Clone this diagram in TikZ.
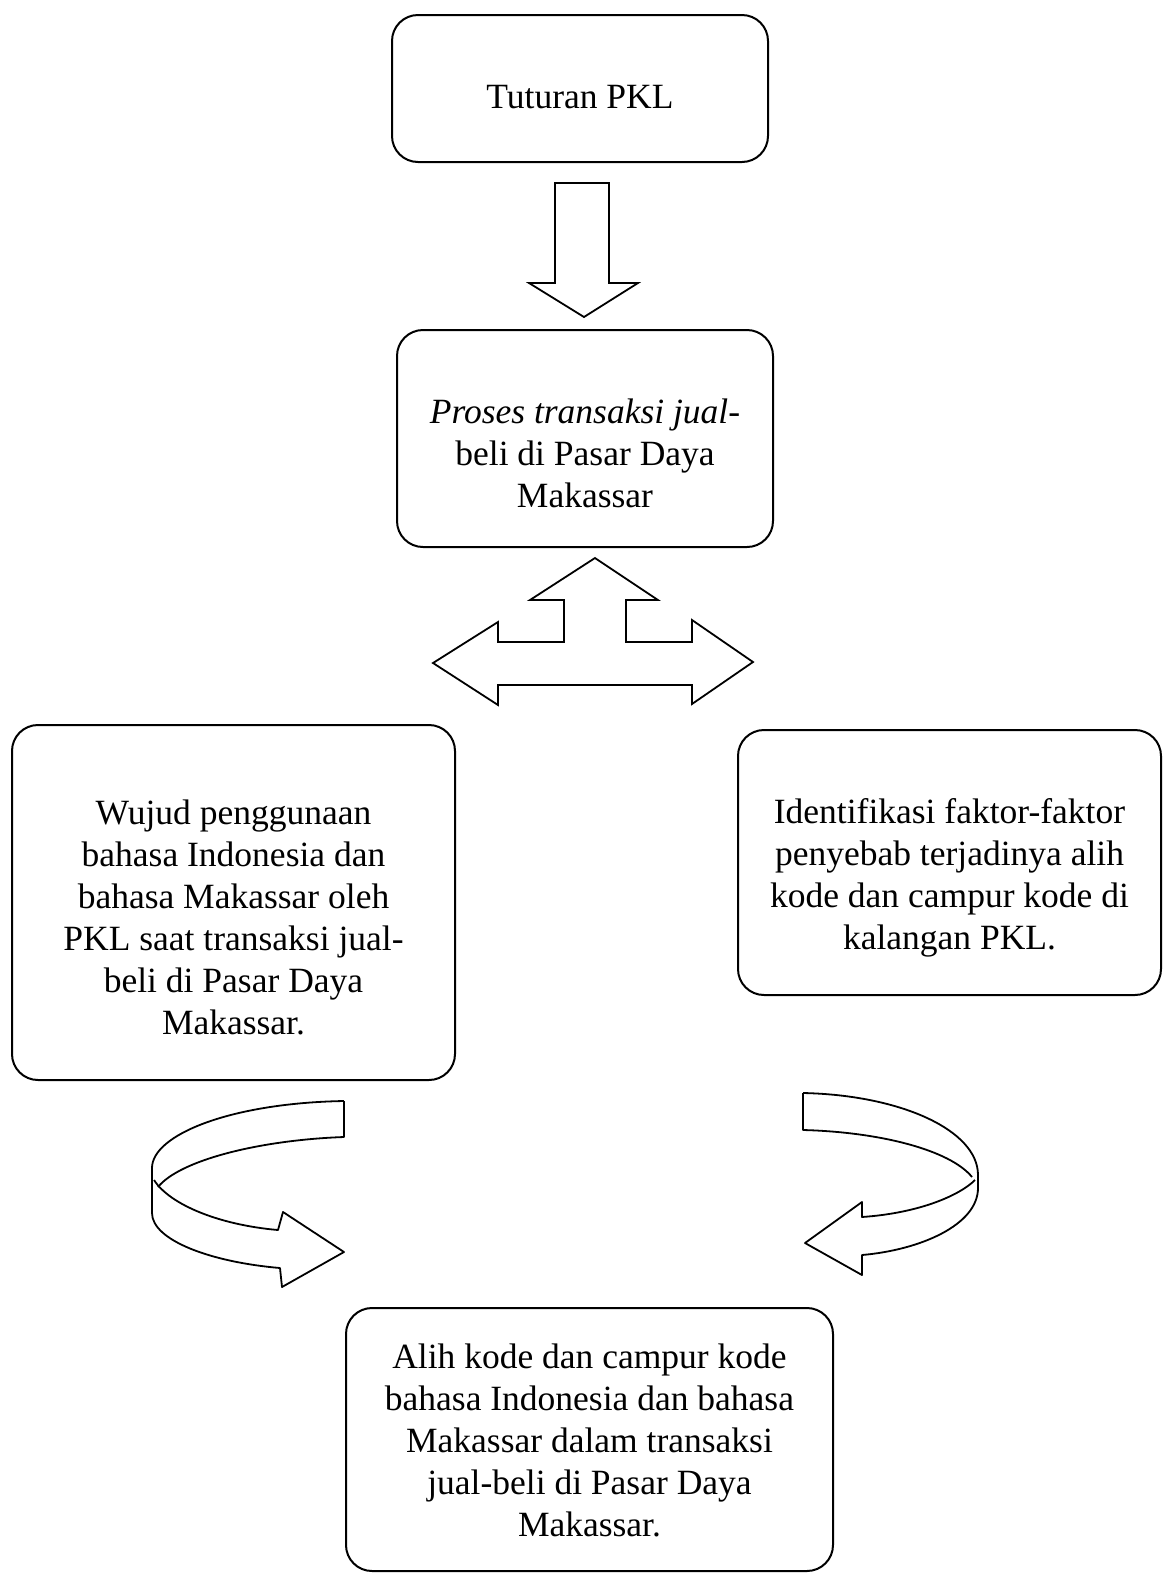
\documentclass[tikz,border=0pt]{standalone}
\usepackage{fontspec}
\setmainfont{Liberation Serif}
\usetikzlibrary{positioning}
\tikzset{
  box/.style={draw, rounded corners=26pt, line width=2pt, inner sep=0pt},
  txt/.style={align=center, font=\fontsize{35.5}{42}\selectfont, inner sep=0pt},
  hollow/.style={draw, fill=white, line width=1.8pt, line join=miter},
  ribbon/.style={draw, fill=white, line width=1.8pt, line join=round},
}

\begin{document}
\begin{tikzpicture}[x=1pt,y=-1pt]
\useasboundingbox[fill=white] (0,0) rectangle (1163,1575);

% Define the boxes
\node[box, minimum width=376pt, minimum height=147pt] (tuturan) at (580,88.5) {};
\node[box, minimum width=376pt, minimum height=217pt] (proses) at (585,438.5) {};
\node[box, minimum width=443pt, minimum height=355pt] (wujud) at (233.5,902.5) {};
\node[box, minimum width=423pt, minimum height=265pt] (faktor) at (949.5,862.5) {};
\node[box, minimum width=487pt, minimum height=263pt] (alih) at (589.5,1439.5) {};

% Texts inside the boxes
\node[txt] (tuturan-t) at ([yshift=-9pt]tuturan.center) {Tuturan PKL};
\node[txt] (proses-t) at ([yshift=-15pt]proses.center)
  {\textit{Proses transaksi jual-}\\beli di Pasar Daya\\Makassar};
\node[txt] (wujud-t) at ([yshift=-15pt]wujud.center)
  {Wujud penggunaan\\bahasa Indonesia dan\\bahasa Makassar oleh\\PKL saat transaksi jual-\\beli di Pasar Daya\\Makassar.};
\node[txt] (faktor-t) at ([yshift=-15pt]faktor.center)
  {Identifikasi faktor-faktor\\penyebab terjadinya alih\\kode dan campur kode di\\kalangan PKL.};
\node[txt] (alih-t) at ([yshift=-1pt]alih.center)
  {Alih kode dan campur kode\\bahasa Indonesia dan bahasa\\Makassar dalam transaksi\\jual-beli di Pasar Daya\\Makassar.};

% Draw the block arrows
\draw[hollow] (555,183) -- (609,183) -- (609,283) -- (638,283) -- (584,317)
  -- (529,283) -- (555,283) -- cycle;

\draw[hollow] (595,558) -- (658,600) -- (626,600) -- (626,642) -- (692,642)
  -- (692,620) -- (753,662) -- (692,704) -- (692,685) -- (498,685) -- (498,705)
  -- (433,663) -- (498,622) -- (498,642) -- (564,642) -- (564,600) -- (530,600) -- cycle;

% Curved arrows
\draw[ribbon] (344,1101) .. controls (230,1103) and (152,1135) .. (152,1168)
  -- (152,1213) .. controls (152,1240) and (210,1262) .. (280,1268)
  -- (282,1287) -- (344,1252) -- (283,1212) -- (278,1230)
  .. controls (220,1225) and (170,1205) .. (154,1180);
\draw[ribbon, fill=none] (344,1101) -- (344,1137) .. controls (260,1140) and (180,1160) .. (158,1187);

\draw[ribbon] (803,1093) .. controls (900,1095) and (978,1130) .. (978,1175)
  -- (978,1188) .. controls (978,1225) and (920,1250) .. (862,1255)
  -- (862,1275) -- (805,1243) -- (862,1202) -- (862,1217)
  .. controls (920,1213) and (960,1195) .. (975,1180);
\draw[ribbon, fill=none] (803,1093) -- (803,1130) .. controls (880,1132) and (950,1150) .. (972,1177);
\end{tikzpicture}
\end{document}
